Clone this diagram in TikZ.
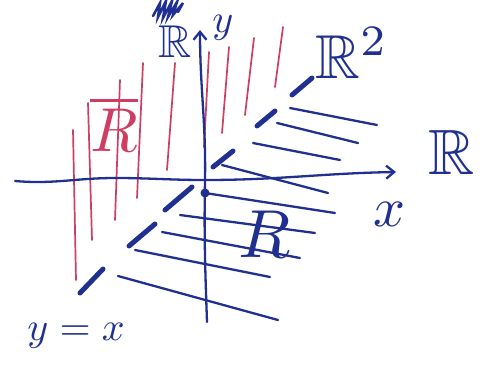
\documentclass[tikz,border=0pt]{standalone}
\usepackage{amssymb,amsmath}
\usetikzlibrary{arrows.meta}
\definecolor{inkblue}{RGB}{32,48,145}
\definecolor{inkred}{RGB}{205,62,98}

\begin{document}
\begin{tikzpicture}[x=1pt,y=-1pt,
    pen/.style={inkblue,line width=2.3pt,line cap=round},
    redpen/.style={inkred,line width=1.7pt,line cap=round},
    diagdash/.style={inkblue,line width=5pt,line cap=round},
    axis/.style={pen,-{Straight Barb[length=8pt,width=13pt]}},
    hand/.style={scale=#1/10,inner sep=0pt}]
  \useasboundingbox (0,0) rectangle (486,367);
  % region above the diagonal (red strokes)
  \foreach \xa/\ya/\xb/\yb in {73/130/76/280, 88/103/92/240, 120/80/115/220,
      143/63/137/198, 175/63/167/170, 209/52/204/147, 229/47/222/133,
      254/38/245/115, 283/27/275/87} {
    \draw[redpen] (\xa,\ya) -- (\xb,\yb);
  }
  % region below the diagonal (blue strokes)
  \foreach \xa/\ya/\xb/\yb in {290/108/377/125, 277/123/358/143, 253/143/340/160,
      222/165/328/193, 205/193/335/213, 180/215/315/233, 162/232/300/258,
      135/250/270/277, 118/276/278/320} {
    \draw[pen] (\xa,\ya) -- (\xb,\yb);
  }
  \fill[inkblue] (205,193) circle (4.5pt);
  % axes
  \coordinate (origin) at (205,180);
  \coordinate (xstart) at (15,181);
  \coordinate (xend) at (396,172);
  \coordinate (ystart) at (207,322);
  \coordinate (yend) at (200,30);
  \draw[axis] (xstart) to[out=-5,in=180] (115,178) to[out=0,in=180] (origin)
    to[out=0,in=181] (xend);
  \draw[axis] (ystart) to[out=92,in=-91] (origin) to[out=89,in=-90] (yend);
  % the diagonal y=x
  \foreach \xa/\ya/\xb/\yb in {80/293/103/269, 129/246/155/224, 165/210/192/187,
      213/167/233/151, 257/126/275/111, 292/95/312/78} {
    \draw[diagdash] (\xa,\ya) -- (\xb,\yb);
  }
  % scribble
  \draw[pen,line width=2.5pt] (153,16) -- (160,3) -- (158,17) -- (166,1) -- (163,18)
    -- (172,1) -- (168,17) -- (177,2) -- (173,15) -- (183,3) -- (178,12);
  % labels
  \node[inkblue,hand=40] (ylabel) at (223,28) {$y$};
  \node[inkblue,hand=46] (yset) at (175,42) {$\mathbb{R}$};
  \node[inkblue,hand=62] (plane) at (352,53) {$\mathbb{R}^2$};
  \node[inkblue,hand=64] (xset) at (452,152) {$\mathbb{R}$};
  \node[inkblue,hand=56] (xlabel) at (389,214) {$x$};
  \node[inkred,hand=62] (rbar) at (114,124) {$\overline{R}$};
  \node[inkblue,hand=68] (rel) at (265,234) {$R$};
  \node[inkblue,hand=40] (diag) at (76,336) {$y=x$};
\end{tikzpicture}
\end{document}
